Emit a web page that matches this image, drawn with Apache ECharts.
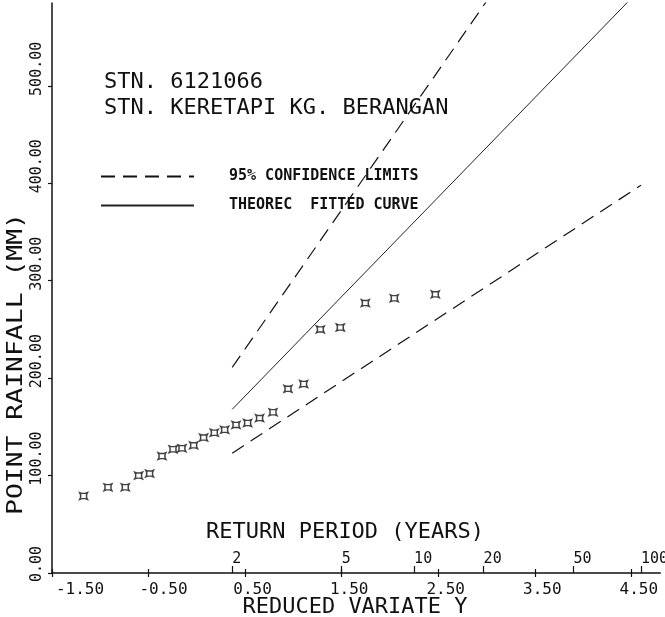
<!DOCTYPE html>
<html>
<head>
<meta charset="utf-8">
<script src="https://cdn.jsdelivr.net/npm/echarts@6/dist/echarts.min.js"></script>
<style>
  html, body { margin: 0; padding: 0; background: #fff; }
  #chart { width: 665px; height: 617px; }
</style>
</head>
<body>
<div id="chart"></div>
<script>
// Annual maximum rainfall, Gumbel plot (reduced variate vs. rainfall)
const stationCode = 'STN. 6121066';
const stationName = 'STN. KERETAPI KG. BERANGAN';

// Observed annual maxima at their plotting positions
const reducedVariate = [-1.173, -0.920, -0.741, -0.603, -0.489, -0.361, -0.247, -0.154,
  -0.033, 0.070, 0.181, 0.288, 0.406, 0.526, 0.650, 0.789, 0.944, 1.106, 1.279, 1.486,
  1.745, 2.045, 2.470];
const rainfall = [79, 88, 88, 100, 102, 120, 127, 128, 131, 139, 144, 147, 152, 154,
  159, 165, 189, 194, 250, 252, 277, 282, 286];

// Fitted curve and 95% confidence limits, from T = 2 to T = 100 years
const curveVariate = [0.3665, 4.6];
const fittedCurve = [168, 600];
const upperLimit = [211, 815];
const lowerLimit = [123, 398];

// Axis ticks
const variateTicks = [-1.5, -0.5, 0.5, 1.5, 2.5, 3.5, 4.5];
const rainfallTicks = [0, 100, 200, 300, 400, 500];
const returnPeriods = [2, 5, 10, 20, 50, 100];

const FONT = 'DejaVu Sans Mono';
const INK = '#111';

// Gumbel reduced variate of a return period T
const gumbelVariate = T => -Math.log(-Math.log(1 - 1 / T));
const returnPeriodVariates = returnPeriods.map(gumbelVariate);

const pair = (xs, ys) => xs.map((x, i) => [x, ys[i]]);

const CONF = '95% CONFIDENCE LIMITS';
const FIT = 'THEOREC  FITTED CURVE';

// Concave-sided square with pointed corners
const pointSymbol = 'path://M0,0 L3,1.3 L7,1.3 L10,0 L8.7,3 L8.7,7 L10,10 L7,8.7 L3,8.7 L0,10 L1.3,7 L1.3,3 Z';

const tickFont = { fontFamily: FONT, fontSize: 16, color: INK };
const rainFont = { fontFamily: FONT, fontSize: 15, color: INK };

const chart = echarts.init(document.getElementById('chart'), null, { renderer: 'canvas' });

const X_MIN = -1.5, X_MAX = 4.8;

chart.setOption({
  animation: false,
  backgroundColor: '#fff',
  title: {
    text: stationCode + '\n' + stationName,
    left: 104,
    top: 70,
    padding: 0,
    textStyle: { fontFamily: FONT, fontSize: 22, fontWeight: 'normal', color: INK, lineHeight: 25.5 }
  },
  legend: {
    data: [CONF, FIT],
    orient: 'vertical',
    left: 100,
    top: 169,
    padding: 0,
    itemWidth: 93,
    itemHeight: 14,
    itemGap: 14,
    selectedMode: false,
    itemStyle: { opacity: 0 },
    textStyle: { fontFamily: FONT, fontSize: 15, fontWeight: 'bold', color: INK, lineHeight: 14, padding: [0, 0, 0, 30] }
  },
  grid: { left: 52, right: 4.7, top: 3, bottom: 44, containLabel: false, outerBoundsMode: 'none' },
  xAxis: [
    {
      type: 'value', min: X_MIN, max: X_MAX, position: 'bottom',
      splitLine: { show: false },
      axisLine: { show: true, onZero: false, lineStyle: { color: INK, width: 1.5 } },
      axisTick: { show: true, length: 4, lineStyle: { color: INK, width: 1.2 }, customValues: variateTicks },
      axisLabel: {
        customValues: variateTicks, margin: 9, align: 'center',
        formatter: v => {
          const s = v.toFixed(2);
          return v < -1 ? '{far|' + s + '}' : v < 0 ? '{neg|' + s + '}' : '{pos|' + s + '}';
        },
        rich: {
          far: Object.assign({ padding: [0, 0, 0, 56] }, tickFont),
          neg: Object.assign({ padding: [0, 0, 0, 30] }, tickFont),
          pos: Object.assign({ padding: [0, 0, 0, 15] }, tickFont)
        }
      }
    },
    {
      // Return period scale along the same baseline
      type: 'value', min: X_MIN, max: X_MAX, position: 'bottom',
      splitLine: { show: false },
      axisLine: { show: false, onZero: false },
      axisTick: { show: true, inside: true, length: 7, lineStyle: { color: INK, width: 1.2 }, customValues: returnPeriodVariates },
      axisLabel: {
        customValues: returnPeriodVariates, inside: true, margin: 6, align: 'left',
        fontFamily: FONT, fontSize: 15, color: INK,
        formatter: v => {
          const i = returnPeriodVariates.findIndex(r => Math.abs(r - v) < 1e-6);
          return i >= 0 ? String(returnPeriods[i]) : '';
        }
      }
    },
    {
      // Inner halves of the variate ticks
      type: 'value', min: X_MIN, max: X_MAX, position: 'bottom',
      splitLine: { show: false },
      axisLine: { show: false, onZero: false },
      axisTick: { show: true, inside: true, length: 4, lineStyle: { color: INK, width: 1.2 }, customValues: variateTicks },
      axisLabel: { show: false }
    }
  ],
  yAxis: {
    type: 'value', min: 0, max: 585,
    splitLine: { show: false },
    axisLine: { show: true, onZero: false, lineStyle: { color: INK, width: 1.5 } },
    axisTick: { show: true, length: 4, lineStyle: { color: INK, width: 1.2 }, customValues: rainfallTicks },
    axisLabel: {
      customValues: rainfallTicks, rotate: 90, margin: 7,
      align: 'center', verticalAlign: 'bottom',
      formatter: v => {
        const s = v.toFixed(2);
        return s.length > 4 ? '{long|' + s + '}' : '{short|' + s + '}';
      },
      rich: {
        long: Object.assign({ padding: [0, 0, 0, 34] }, rainFont),
        short: Object.assign({ padding: [0, 0, 0, 18] }, rainFont)
      }
    }
  },
  graphic: [
    {
      type: 'text', x: 345, y: 532,
      style: { text: 'RETURN PERIOD (YEARS)', fontFamily: FONT, fontSize: 22, fill: INK, align: 'center', verticalAlign: 'middle' }
    },
    {
      type: 'text', x: 355, y: 607,
      style: { text: 'REDUCED VARIATE Y', fontFamily: FONT, fontSize: 22, fill: INK, align: 'center', verticalAlign: 'middle' }
    },
    {
      type: 'text', x: 16, y: 364, rotation: Math.PI / 2, scaleX: 1.2,
      style: { text: 'POINT RAINFALL (MM)', fontFamily: FONT, fontSize: 22, fill: INK, align: 'center', verticalAlign: 'middle' }
    }
  ],
  series: [
    {
      name: CONF, type: 'line', data: pair(curveVariate, upperLimit),
      symbol: 'none', silent: true, clip: true,
      itemStyle: { color: INK },
      lineStyle: { color: INK, width: 1.2, type: [14, 8] }
    },
    {
      name: CONF, type: 'line', data: pair(curveVariate, lowerLimit),
      symbol: 'none', silent: true, clip: true,
      itemStyle: { color: INK },
      lineStyle: { color: INK, width: 1.2, type: [14, 8] }
    },
    {
      name: FIT, type: 'line', data: pair(curveVariate, fittedCurve),
      symbol: 'none', silent: true, clip: true,
      itemStyle: { color: INK },
      lineStyle: { color: '#222', width: 1 }
    },
    {
      name: 'Observed', type: 'scatter', data: pair(reducedVariate, rainfall),
      symbol: pointSymbol, symbolSize: [8, 7], silent: true,
      itemStyle: { color: '#fff', borderColor: INK, borderWidth: 1.4 }
    }
  ]
});
</script>
</body>
</html>
